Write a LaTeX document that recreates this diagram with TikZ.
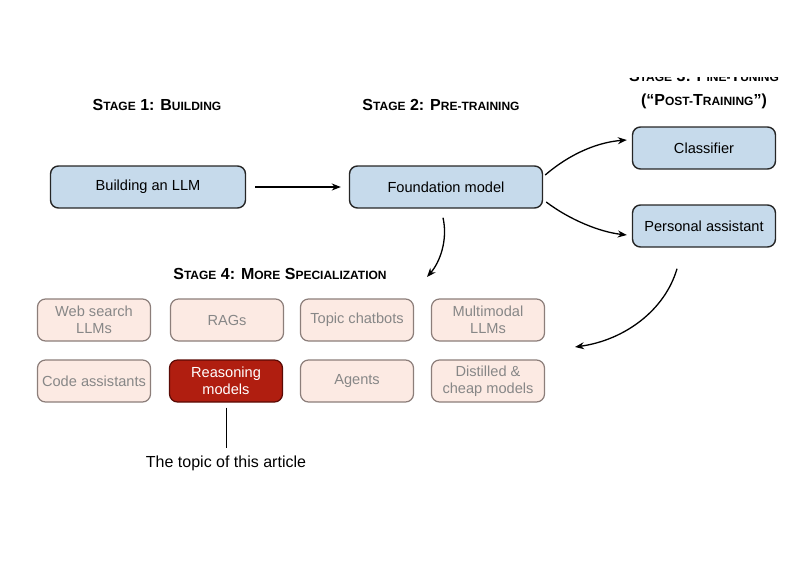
\documentclass[tikz,border=0pt]{standalone}
\usepackage{fontspec}
\setmainfont{Liberation Sans}
\usetikzlibrary{arrows.meta}
\usetikzlibrary{positioning}

\definecolor{llmblue}{HTML}{C6DAEB}
\definecolor{specfill}{HTML}{FCEAE3}
\definecolor{specline}{HTML}{8C7E7A}
\definecolor{spectext}{HTML}{878787}
\definecolor{reasonred}{HTML}{B01E10}
\definecolor{reasonline}{HTML}{5A0A05}

\newcommand{\sml}[1]{{\fontsize{12}{14}\selectfont #1}}

\tikzset{
  stagetitle/.style={font=\fontsize{16}{24}\selectfont\bfseries, align=center},
  mainbox/.style={draw=black!85, line width=1.4pt, fill=llmblue, rounded corners=8pt,
    minimum height=42pt, inner sep=0pt, font=\fontsize{14.6}{17}\selectfont},
  specbox/.style={draw=specline, line width=1.2pt, fill=specfill, rounded corners=8pt,
    minimum width=113pt, minimum height=42pt, inner sep=0pt, align=center,
    text=spectext, font=\fontsize{14.6}{17}\selectfont},
  flow/.style={line width=1.3pt, -{Stealth[length=9pt,width=7pt]}},
}

\begin{document}
\begin{tikzpicture}[x=1pt,y=-1pt]
\useasboundingbox (0,0) rectangle (800,560);
% stage titles
\node[stagetitle] (stage1) at (157,105) {S\sml{TAGE} 1: B\sml{UILDING}};
\node[stagetitle] (stage2) at (441,105) {S\sml{TAGE} 2: P\sml{RE-TRAINING}};
\begin{scope}
\clip (600,77) rectangle (800,130);
\node[stagetitle] (stage3) at (704,90) {S\sml{TAGE} 3: F\sml{INE-}T\sml{UNING}\\(“P\sml{OST-}T\sml{RAINING}”)};
\end{scope}
\node[stagetitle] (stage4) at (280,274) {S\sml{TAGE} 4: M\sml{ORE} S\sml{PECIALIZATION}};
% main boxes
\node[mainbox, minimum width=195pt] (build) at (148,187) {Building an LLM};
\node[mainbox, minimum width=193pt] (found) at (446,187) {Foundation model};
\node[mainbox, minimum width=143pt] (classif) at (704,148) {Classifier};
\node[mainbox, minimum width=143pt] (assist) at (704,226) {Personal assistant};
% specialization grid
\foreach \x/\y/\n/\t in {94/320/web/{Web search\\LLMs}, 227/320/rag/RAGs,
  357/320/topic/Topic chatbots, 488/320/multi/{Multimodal\\LLMs},
  94/381/code/Code assistants, 357/381/agent/Agents,
  488/381/distil/{Distilled \&\\cheap models}} {
\node[specbox] (\n) at (\x,\y) {\t};
}
\node[specbox, fill=reasonred, draw=reasonline, text=white] (reason) at (226,381) {Reasoning\\models};
% arrows
\coordinate (s4in) at (427,277);
\coordinate (gridin) at (575,347);
\draw[flow, shorten <=9pt, shorten >=8pt] (build) -- (found);
\draw[flow] ([xshift=2pt,yshift=12pt]found.east) .. controls (572,152) and (600,142) .. ([xshift=-5pt,yshift=8pt]classif.west);
\draw[flow] ([xshift=3pt,yshift=-15pt]found.east) .. controls (570,220) and (600,232) .. ([xshift=-5pt,yshift=-9pt]assist.west);
\draw[flow] ([xshift=-3pt,yshift=-9pt]found.south) .. controls (448,240) and (440,262) .. (s4in);
\draw[flow] ([xshift=-27pt,yshift=-21pt]assist.south) .. controls (665,310) and (625,340) .. (gridin);
% annotation
\node[font=\fontsize{16}{17}\selectfont] (topic) at (226,463) {The topic of this article};
\draw[line width=0.8pt] ([yshift=-5pt]reason.south) -- ([yshift=4pt]topic.north);
\end{tikzpicture}
\end{document}
